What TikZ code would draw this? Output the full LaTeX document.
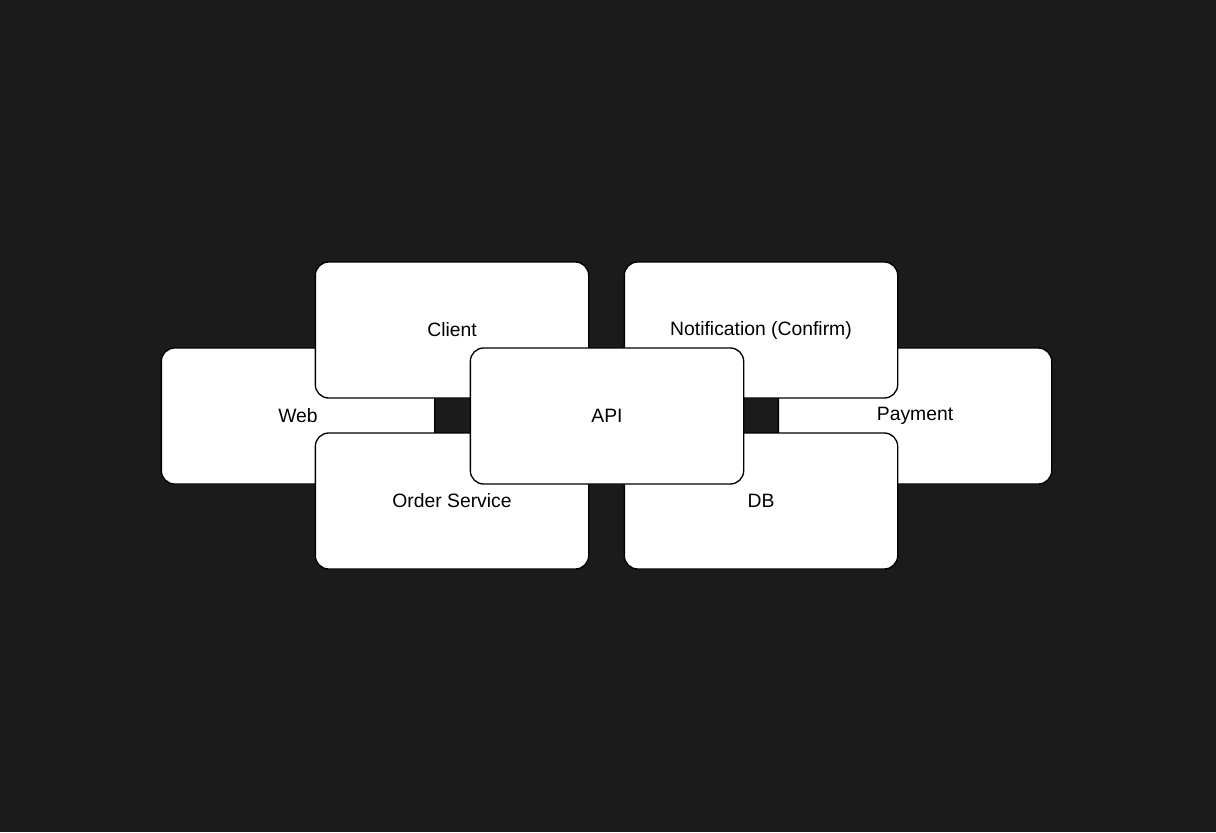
\documentclass[tikz,border=0pt]{standalone}
\usepackage{fontspec}
\setmainfont{Liberation Sans}
\begin{document}
\begin{tikzpicture}[x=0.75pt,y=-0.75pt,
  box/.style={draw=black,fill=white,line width=1pt,rounded corners=10pt,
    minimum width=205pt,minimum height=102pt,font=\fontsize{14.5}{17}\selectfont,
    inner sep=0pt}]
  % Background
  \fill[fill={rgb,255:red,27;green,27;blue,27}] (0,0) rectangle (1216,832);
  \useasboundingbox (0,0) rectangle (1216,832);

  % Boxes, back to front
  \node[box] (web) at (298,416) {Web};
  \node[box] (payment) at (915,416) {Payment};
  \node[box] (client) at (452,330) {Client};
  \node[box] (order) at (452,501) {Order Service};
  \node[box] (notify) at (761,330) {Notification (Confirm)};
  \node[box] (db) at (761,501) {DB};
  \node[box] (api) at (607,416) {API};
\end{tikzpicture}
\end{document}
